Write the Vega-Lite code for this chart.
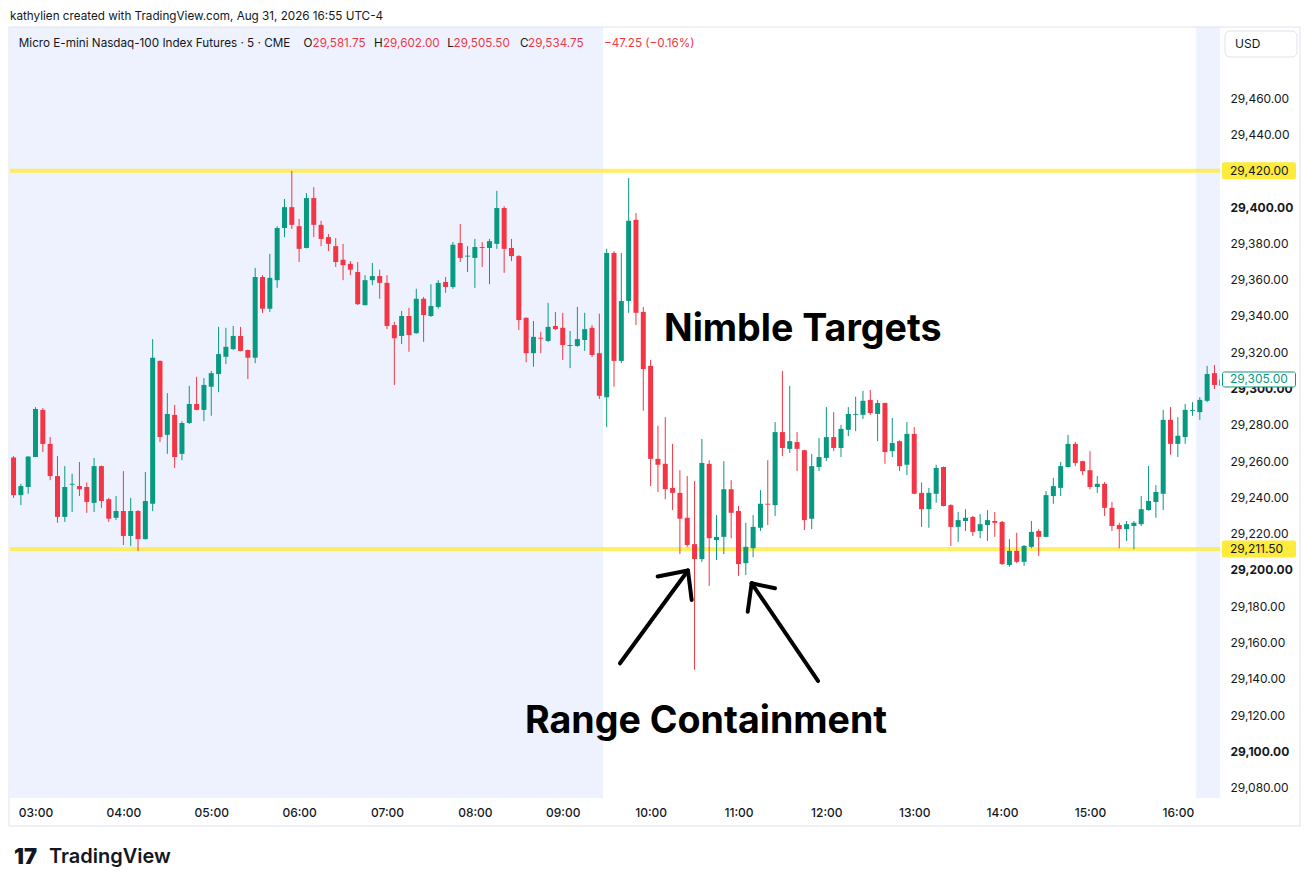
{
  "$schema": "https://vega.github.io/schema/vega-lite/v6.json",
  "width": 1210,
  "height": 771,
  "autosize": {"type": "none"},
  "padding": {"left": 10, "top": 27, "right": 91, "bottom": 89},
  "background": "#ffffff",
  "config": {
    "view": {"stroke": null},
    "font": "Inter",
    "scale": {"continuousPadding": 0},
    "axis": {"domain": false, "ticks": false, "grid": false, "labelFont": "Inter", "labelFontSize": 12, "labelColor": "#131722", "labelOverlap": false, "labelFlush": false}
  },
  "data": {"values": [{}]},
  "datasets": {
    "candles": [
      {"t":"2026-08-31T02:45:00Z","o":29262,"h":29262.75,"l":29239.75,"c":29241.25},
      {"t":"2026-08-31T02:50:00Z","o":29241.25,"h":29247.5,"l":29235.75,"c":29246.25},
      {"t":"2026-08-31T02:55:00Z","o":29245.75,"h":29262.75,"l":29242,"c":29262.5},
      {"t":"2026-08-31T03:00:00Z","o":29262.25,"h":29289.75,"l":29262.25,"c":29288.75},
      {"t":"2026-08-31T03:05:00Z","o":29288.25,"h":29289.25,"l":29265,"c":29269.5},
      {"t":"2026-08-31T03:10:00Z","o":29269.5,"h":29273.25,"l":29249.5,"c":29251.75},
      {"t":"2026-08-31T03:15:00Z","o":29251.75,"h":29262.75,"l":29226,"c":29229.25},
      {"t":"2026-08-31T03:20:00Z","o":29229.25,"h":29257.25,"l":29226.5,"c":29245.75},
      {"t":"2026-08-31T03:25:00Z","o":29247,"h":29253,"l":29232,"c":29247.5},
      {"t":"2026-08-31T03:30:00Z","o":29246.25,"h":29259.5,"l":29240.75,"c":29244.5},
      {"t":"2026-08-31T03:35:00Z","o":29245.75,"h":29248.25,"l":29231.5,"c":29237.5},
      {"t":"2026-08-31T03:40:00Z","o":29237,"h":29261.75,"l":29232,"c":29257.25},
      {"t":"2026-08-31T03:45:00Z","o":29257.25,"h":29257.5,"l":29234.25,"c":29238},
      {"t":"2026-08-31T03:50:00Z","o":29239,"h":29239.75,"l":29226.5,"c":29228.25},
      {"t":"2026-08-31T03:55:00Z","o":29228.75,"h":29240.75,"l":29227.5,"c":29232.5},
      {"t":"2026-08-31T04:00:00Z","o":29232.5,"h":29254.5,"l":29213.75,"c":29218.75},
      {"t":"2026-08-31T04:05:00Z","o":29218.75,"h":29239.75,"l":29213.25,"c":29232.5},
      {"t":"2026-08-31T04:10:00Z","o":29232.5,"h":29233,"l":29210.5,"c":29217},
      {"t":"2026-08-31T04:15:00Z","o":29217,"h":29254,"l":29216.75,"c":29238},
      {"t":"2026-08-31T04:20:00Z","o":29236.5,"h":29327.25,"l":29232.5,"c":29317},
      {"t":"2026-08-31T04:25:00Z","o":29315.25,"h":29315.5,"l":29270.5,"c":29273.25},
      {"t":"2026-08-31T04:30:00Z","o":29274.5,"h":29297.5,"l":29264,"c":29286},
      {"t":"2026-08-31T04:35:00Z","o":29285.5,"h":29291,"l":29256.25,"c":29262.25},
      {"t":"2026-08-31T04:40:00Z","o":29264,"h":29282,"l":29260.5,"c":29281},
      {"t":"2026-08-31T04:45:00Z","o":29281,"h":29301.5,"l":29280.5,"c":29291.5},
      {"t":"2026-08-31T04:50:00Z","o":29291.5,"h":29306.5,"l":29288,"c":29288.25},
      {"t":"2026-08-31T04:55:00Z","o":29288.25,"h":29305.75,"l":29282,"c":29302},
      {"t":"2026-08-31T05:00:00Z","o":29301,"h":29309.75,"l":29285,"c":29308.5},
      {"t":"2026-08-31T05:05:00Z","o":29308,"h":29334,"l":29298,"c":29319},
      {"t":"2026-08-31T05:10:00Z","o":29317.5,"h":29333.5,"l":29313.5,"c":29323},
      {"t":"2026-08-31T05:15:00Z","o":29321.75,"h":29334.5,"l":29321.25,"c":29329},
      {"t":"2026-08-31T05:20:00Z","o":29329,"h":29334,"l":29320.5,"c":29320.75},
      {"t":"2026-08-31T05:25:00Z","o":29321.25,"h":29321.5,"l":29305.25,"c":29317},
      {"t":"2026-08-31T05:30:00Z","o":29317,"h":29366.5,"l":29314,"c":29361.5},
      {"t":"2026-08-31T05:35:00Z","o":29361.5,"h":29362.5,"l":29341.75,"c":29344},
      {"t":"2026-08-31T05:40:00Z","o":29344,"h":29374.25,"l":29342.25,"c":29361},
      {"t":"2026-08-31T05:45:00Z","o":29359.75,"h":29389.5,"l":29355.5,"c":29388.5},
      {"t":"2026-08-31T05:50:00Z","o":29388.5,"h":29404.5,"l":29383.5,"c":29400},
      {"t":"2026-08-31T05:55:00Z","o":29400,"h":29420,"l":29388,"c":29390.25},
      {"t":"2026-08-31T06:00:00Z","o":29389.5,"h":29393.5,"l":29369.75,"c":29377},
      {"t":"2026-08-31T06:05:00Z","o":29377.5,"h":29407.75,"l":29377.25,"c":29405},
      {"t":"2026-08-31T06:10:00Z","o":29405,"h":29411,"l":29383.5,"c":29390.25},
      {"t":"2026-08-31T06:15:00Z","o":29390.25,"h":29392.5,"l":29378.5,"c":29382.5},
      {"t":"2026-08-31T06:20:00Z","o":29383.5,"h":29385.25,"l":29375.75,"c":29379.75},
      {"t":"2026-08-31T06:25:00Z","o":29378.5,"h":29383,"l":29367,"c":29369.75},
      {"t":"2026-08-31T06:30:00Z","o":29371,"h":29379.75,"l":29359.75,"c":29368},
      {"t":"2026-08-31T06:35:00Z","o":29368.75,"h":29370.25,"l":29362.5,"c":29365.5},
      {"t":"2026-08-31T06:40:00Z","o":29364.25,"h":29369.75,"l":29346,"c":29346.5},
      {"t":"2026-08-31T06:45:00Z","o":29346,"h":29362.5,"l":29345.75,"c":29359.75},
      {"t":"2026-08-31T06:50:00Z","o":29359.75,"h":29369.25,"l":29357,"c":29362},
      {"t":"2026-08-31T06:55:00Z","o":29362,"h":29365.5,"l":29349.5,"c":29358.25},
      {"t":"2026-08-31T07:00:00Z","o":29358.25,"h":29362.5,"l":29332.75,"c":29334.5},
      {"t":"2026-08-31T07:05:00Z","o":29335,"h":29336.75,"l":29302,"c":29327.75},
      {"t":"2026-08-31T07:10:00Z","o":29329,"h":29342.75,"l":29324.5,"c":29340},
      {"t":"2026-08-31T07:15:00Z","o":29340,"h":29344.5,"l":29320.25,"c":29329.5},
      {"t":"2026-08-31T07:20:00Z","o":29330.5,"h":29355,"l":29330.25,"c":29349.5},
      {"t":"2026-08-31T07:25:00Z","o":29349.5,"h":29350.5,"l":29325.75,"c":29340.5},
      {"t":"2026-08-31T07:30:00Z","o":29340,"h":29357.5,"l":29339.5,"c":29345.5},
      {"t":"2026-08-31T07:35:00Z","o":29345,"h":29359.75,"l":29344,"c":29358.25},
      {"t":"2026-08-31T07:40:00Z","o":29358.75,"h":29361.5,"l":29352.75,"c":29356},
      {"t":"2026-08-31T07:45:00Z","o":29356,"h":29380.75,"l":29355,"c":29379.25},
      {"t":"2026-08-31T07:50:00Z","o":29380.25,"h":29390.75,"l":29369.75,"c":29372},
      {"t":"2026-08-31T07:55:00Z","o":29372.75,"h":29378.5,"l":29364.25,"c":29373.25},
      {"t":"2026-08-31T08:00:00Z","o":29372,"h":29382.5,"l":29355.5,"c":29378},
      {"t":"2026-08-31T08:05:00Z","o":29378,"h":29380.75,"l":29367,"c":29377.5},
      {"t":"2026-08-31T08:10:00Z","o":29377.5,"h":29382.5,"l":29357.5,"c":29381.25},
      {"t":"2026-08-31T08:15:00Z","o":29379.75,"h":29409,"l":29377,"c":29399.5},
      {"t":"2026-08-31T08:20:00Z","o":29399.5,"h":29400.5,"l":29363.75,"c":29377},
      {"t":"2026-08-31T08:25:00Z","o":29377.5,"h":29382.5,"l":29370.25,"c":29373},
      {"t":"2026-08-31T08:30:00Z","o":29373,"h":29373.5,"l":29332.25,"c":29337.75},
      {"t":"2026-08-31T08:35:00Z","o":29339,"h":29339.25,"l":29314.5,"c":29319.5},
      {"t":"2026-08-31T08:40:00Z","o":29319.5,"h":29337.25,"l":29312,"c":29328.5},
      {"t":"2026-08-31T08:45:00Z","o":29328,"h":29331.25,"l":29319.5,"c":29327.5},
      {"t":"2026-08-31T08:50:00Z","o":29326.25,"h":29347.25,"l":29325.75,"c":29334},
      {"t":"2026-08-31T08:55:00Z","o":29334.5,"h":29342.25,"l":29332.25,"c":29332.75},
      {"t":"2026-08-31T09:00:00Z","o":29333.5,"h":29341.75,"l":29315.75,"c":29324},
      {"t":"2026-08-31T09:05:00Z","o":29323.5,"h":29331.75,"l":29311.25,"c":29324},
      {"t":"2026-08-31T09:10:00Z","o":29323.5,"h":29345,"l":29323,"c":29327.25},
      {"t":"2026-08-31T09:15:00Z","o":29326.75,"h":29341.75,"l":29320.75,"c":29332.75},
      {"t":"2026-08-31T09:20:00Z","o":29333.5,"h":29335,"l":29317.5,"c":29318.5},
      {"t":"2026-08-31T09:25:00Z","o":29319.5,"h":29341.25,"l":29294.25,"c":29296},
      {"t":"2026-08-31T09:30:00Z","o":29295.25,"h":29377,"l":29278.75,"c":29374.75},
      {"t":"2026-08-31T09:35:00Z","o":29374.75,"h":29375.75,"l":29301,"c":29315.25},
      {"t":"2026-08-31T09:40:00Z","o":29315.25,"h":29374.75,"l":29314,"c":29348.25},
      {"t":"2026-08-31T09:45:00Z","o":29348.25,"h":29416,"l":29341.75,"c":29392.5},
      {"t":"2026-08-31T09:50:00Z","o":29393,"h":29396.75,"l":29335,"c":29341.75},
      {"t":"2026-08-31T09:55:00Z","o":29342.25,"h":29345,"l":29287.75,"c":29310.75},
      {"t":"2026-08-31T10:00:00Z","o":29312.5,"h":29315.75,"l":29246.25,"c":29261.25},
      {"t":"2026-08-31T10:05:00Z","o":29261.25,"h":29279.5,"l":29243,"c":29258},
      {"t":"2026-08-31T10:10:00Z","o":29258.5,"h":29284.25,"l":29239,"c":29244.5},
      {"t":"2026-08-31T10:15:00Z","o":29245.25,"h":29269.5,"l":29233,"c":29242.5},
      {"t":"2026-08-31T10:20:00Z","o":29242.5,"h":29255,"l":29208.75,"c":29228.25},
      {"t":"2026-08-31T10:25:00Z","o":29228.75,"h":29251.75,"l":29212.75,"c":29213.75},
      {"t":"2026-08-31T10:30:00Z","o":29214.25,"h":29249,"l":29145,"c":29206},
      {"t":"2026-08-31T10:35:00Z","o":29206,"h":29272.25,"l":29204.5,"c":29259},
      {"t":"2026-08-31T10:40:00Z","o":29258.5,"h":29260.5,"l":29191.25,"c":29217.5},
      {"t":"2026-08-31T10:45:00Z","o":29216.5,"h":29230.25,"l":29205.5,"c":29218.25},
      {"t":"2026-08-31T10:50:00Z","o":29218.25,"h":29260,"l":29208.75,"c":29244.5},
      {"t":"2026-08-31T10:55:00Z","o":29244.5,"h":29249.5,"l":29217.5,"c":29231.5},
      {"t":"2026-08-31T11:00:00Z","o":29232.5,"h":29235.25,"l":29196.75,"c":29203.25},
      {"t":"2026-08-31T11:05:00Z","o":29203.75,"h":29226,"l":29197.25,"c":29212.75},
      {"t":"2026-08-31T11:10:00Z","o":29212,"h":29230.25,"l":29207,"c":29223.75},
      {"t":"2026-08-31T11:15:00Z","o":29223.25,"h":29244,"l":29221.5,"c":29236.5},
      {"t":"2026-08-31T11:20:00Z","o":29236.5,"h":29260.5,"l":29224.75,"c":29236},
      {"t":"2026-08-31T11:25:00Z","o":29235.75,"h":29281.5,"l":29229.75,"c":29276},
      {"t":"2026-08-31T11:30:00Z","o":29276,"h":29309.75,"l":29262.75,"c":29267.25},
      {"t":"2026-08-31T11:35:00Z","o":29266.75,"h":29301.5,"l":29264.5,"c":29271},
      {"t":"2026-08-31T11:40:00Z","o":29270.5,"h":29276,"l":29254.5,"c":29266.75},
      {"t":"2026-08-31T11:45:00Z","o":29266,"h":29266.25,"l":29222,"c":29227.5},
      {"t":"2026-08-31T11:50:00Z","o":29228.25,"h":29264,"l":29222.5,"c":29257.25},
      {"t":"2026-08-31T11:55:00Z","o":29256.75,"h":29272.75,"l":29254.5,"c":29262.25},
      {"t":"2026-08-31T12:00:00Z","o":29261.75,"h":29289.75,"l":29260,"c":29273.25},
      {"t":"2026-08-31T12:05:00Z","o":29273.25,"h":29287,"l":29265.5,"c":29267.25},
      {"t":"2026-08-31T12:10:00Z","o":29267.25,"h":29280,"l":29262.25,"c":29277.75},
      {"t":"2026-08-31T12:15:00Z","o":29277.25,"h":29289.75,"l":29273.75,"c":29286},
      {"t":"2026-08-31T12:20:00Z","o":29285.5,"h":29295.5,"l":29276.5,"c":29286},
      {"t":"2026-08-31T12:25:00Z","o":29285.5,"h":29298.75,"l":29283.25,"c":29293.25},
      {"t":"2026-08-31T12:30:00Z","o":29293.75,"h":29299.25,"l":29285.5,"c":29286.5},
      {"t":"2026-08-31T12:35:00Z","o":29286,"h":29293.75,"l":29271,"c":29292},
      {"t":"2026-08-31T12:40:00Z","o":29292,"h":29292.25,"l":29258.5,"c":29265},
      {"t":"2026-08-31T12:45:00Z","o":29265.5,"h":29283.75,"l":29262.25,"c":29270},
      {"t":"2026-08-31T12:50:00Z","o":29271,"h":29271.5,"l":29254.5,"c":29257.25},
      {"t":"2026-08-31T12:55:00Z","o":29258,"h":29281.5,"l":29252.25,"c":29275},
      {"t":"2026-08-31T13:00:00Z","o":29275,"h":29278.75,"l":29241.75,"c":29242},
      {"t":"2026-08-31T13:05:00Z","o":29242.5,"h":29248.25,"l":29223.75,"c":29233.5},
      {"t":"2026-08-31T13:10:00Z","o":29233.5,"h":29245.25,"l":29223.25,"c":29242.5},
      {"t":"2026-08-31T13:15:00Z","o":29242,"h":29258,"l":29237,"c":29256.25},
      {"t":"2026-08-31T13:20:00Z","o":29256.75,"h":29257,"l":29235,"c":29235.25},
      {"t":"2026-08-31T13:25:00Z","o":29235.75,"h":29236.25,"l":29213.25,"c":29223.75},
      {"t":"2026-08-31T13:30:00Z","o":29223.75,"h":29232,"l":29215.5,"c":29227.5},
      {"t":"2026-08-31T13:35:00Z","o":29227,"h":29233.5,"l":29221.5,"c":29228.75},
      {"t":"2026-08-31T13:40:00Z","o":29229.25,"h":29229.75,"l":29218.75,"c":29221},
      {"t":"2026-08-31T13:45:00Z","o":29221.5,"h":29230.75,"l":29217.5,"c":29225.25},
      {"t":"2026-08-31T13:50:00Z","o":29224.75,"h":29233,"l":29216,"c":29227.5},
      {"t":"2026-08-31T13:55:00Z","o":29227,"h":29232,"l":29218.25,"c":29226},
      {"t":"2026-08-31T14:00:00Z","o":29226.5,"h":29227,"l":29202.75,"c":29203.25},
      {"t":"2026-08-31T14:05:00Z","o":29202.75,"h":29217,"l":29201.75,"c":29210.5},
      {"t":"2026-08-31T14:10:00Z","o":29210.5,"h":29220.5,"l":29203.75,"c":29204.5},
      {"t":"2026-08-31T14:15:00Z","o":29204.5,"h":29213.75,"l":29202.25,"c":29213.25},
      {"t":"2026-08-31T14:20:00Z","o":29212.75,"h":29227,"l":29212,"c":29221},
      {"t":"2026-08-31T14:25:00Z","o":29221.5,"h":29222.5,"l":29207.75,"c":29218.25},
      {"t":"2026-08-31T14:30:00Z","o":29218.25,"h":29243.5,"l":29218,"c":29241.25},
      {"t":"2026-08-31T14:35:00Z","o":29240.75,"h":29250.75,"l":29236.5,"c":29246.25},
      {"t":"2026-08-31T14:40:00Z","o":29245.25,"h":29259.5,"l":29240.75,"c":29257.25},
      {"t":"2026-08-31T14:45:00Z","o":29256.75,"h":29274.5,"l":29256.5,"c":29269.5},
      {"t":"2026-08-31T14:50:00Z","o":29269.5,"h":29270.5,"l":29257.25,"c":29259},
      {"t":"2026-08-31T14:55:00Z","o":29260,"h":29260.25,"l":29252.25,"c":29254.5},
      {"t":"2026-08-31T15:00:00Z","o":29255,"h":29265.5,"l":29244.5,"c":29245.75},
      {"t":"2026-08-31T15:05:00Z","o":29245.75,"h":29251.75,"l":29242.5,"c":29247.5},
      {"t":"2026-08-31T15:10:00Z","o":29247.5,"h":29248.5,"l":29229.75,"c":29234.25},
      {"t":"2026-08-31T15:15:00Z","o":29234.25,"h":29237.5,"l":29221.5,"c":29224.25},
      {"t":"2026-08-31T15:20:00Z","o":29224.75,"h":29226,"l":29212,"c":29222.5},
      {"t":"2026-08-31T15:25:00Z","o":29222.5,"h":29227,"l":29216,"c":29225.25},
      {"t":"2026-08-31T15:30:00Z","o":29224.25,"h":29227,"l":29211.5,"c":29226},
      {"t":"2026-08-31T15:35:00Z","o":29225.25,"h":29240.75,"l":29224.25,"c":29233.5},
      {"t":"2026-08-31T15:40:00Z","o":29233,"h":29257.25,"l":29232.75,"c":29238},
      {"t":"2026-08-31T15:45:00Z","o":29237.5,"h":29246.75,"l":29228.75,"c":29243},
      {"t":"2026-08-31T15:50:00Z","o":29242,"h":29288.25,"l":29233,"c":29282.75},
      {"t":"2026-08-31T15:55:00Z","o":29282.75,"h":29289.75,"l":29263.5,"c":29269.5},
      {"t":"2026-08-31T16:00:00Z","o":29269.5,"h":29284.25,"l":29262.25,"c":29274},
      {"t":"2026-08-31T16:05:00Z","o":29273.25,"h":29291.5,"l":29269.5,"c":29288.25},
      {"t":"2026-08-31T16:10:00Z","o":29287.75,"h":29292.5,"l":29285,"c":29288.25},
      {"t":"2026-08-31T16:15:00Z","o":29287,"h":29295.25,"l":29282.75,"c":29293.75},
      {"t":"2026-08-31T16:20:00Z","o":29293.25,"h":29312.5,"l":29292.5,"c":29308},
      {"t":"2026-08-31T16:25:00Z","o":29308.5,"h":29313,"l":29299.75,"c":29302},
      {"t":"2026-08-31T16:30:00Z","o":29301.5,"h":29306,"l":29301,"c":29305}
    ]
  },
  "layer": [
    {
      "data": {"values": [{"s": "2026-08-31T02:30:00Z", "e": "2026-08-31T09:27:30Z"}, {"s": "2026-08-31T16:12:30Z", "e": "2026-08-31T16:45:00Z"}]},
      "mark": {"type": "rect", "color": "#EEF2FF", "clip": true},
      "encoding": {
        "x": {"field": "s", "type": "temporal", "title": null,
          "scale": {"type": "utc", "nice": false, "padding": 0, "domain": [{"year": 2026, "month": 8, "date": 31, "hours": 2, "minutes": 42, "seconds": 35, "utc": true}, {"year": 2026, "month": 8, "date": 31, "hours": 16, "minutes": 28, "seconds": 47, "utc": true}]},
          "axis": {"orient": "bottom", "labelExpr": "utcFormat(datum.value, '%H:%M')", "labelPadding": 9, "labelFontWeight": 500,
            "values": [
              {"year": 2026, "month": 8, "date": 31, "hours": 3, "utc": true},
              {"year": 2026, "month": 8, "date": 31, "hours": 4, "utc": true},
              {"year": 2026, "month": 8, "date": 31, "hours": 5, "utc": true},
              {"year": 2026, "month": 8, "date": 31, "hours": 6, "utc": true},
              {"year": 2026, "month": 8, "date": 31, "hours": 7, "utc": true},
              {"year": 2026, "month": 8, "date": 31, "hours": 8, "utc": true},
              {"year": 2026, "month": 8, "date": 31, "hours": 9, "utc": true},
              {"year": 2026, "month": 8, "date": 31, "hours": 10, "utc": true},
              {"year": 2026, "month": 8, "date": 31, "hours": 11, "utc": true},
              {"year": 2026, "month": 8, "date": 31, "hours": 12, "utc": true},
              {"year": 2026, "month": 8, "date": 31, "hours": 13, "utc": true},
              {"year": 2026, "month": 8, "date": 31, "hours": 14, "utc": true},
              {"year": 2026, "month": 8, "date": 31, "hours": 15, "utc": true},
              {"year": 2026, "month": 8, "date": 31, "hours": 16, "utc": true}
            ]}},
        "x2": {"field": "e"}
      }
    },
    {
      "mark": {"type": "rect", "fillOpacity": 0, "stroke": "#E0E3EB", "strokeWidth": 1, "xOffset": -1, "x2Offset": 80, "y2Offset": 28},
      "encoding": {
        "x": {"datum": {"year": 2026, "month": 8, "date": 31, "hours": 2, "minutes": 42, "seconds": 35, "utc": true}, "type": "temporal"},
        "x2": {"datum": {"year": 2026, "month": 8, "date": 31, "hours": 16, "minutes": 28, "seconds": 47, "utc": true}},
        "y": {"datum": 29499.3, "type": "quantitative"},
        "y2": {"datum": 29074.3}
      }
    },
    {
      "data": {"values": [{"p": 29420}, {"p": 29211.5}]},
      "mark": {"type": "rule", "color": "#FFEB3B", "strokeWidth": 4, "opacity": 0.8},
      "encoding": {
        "y": {"field": "p", "type": "quantitative", "title": null,
          "scale": {"domain": [29074.3, 29499.3], "zero": false, "nice": false, "padding": 0},
          "axis": {"orient": "right", "format": ",.2f", "labelPadding": 10,
            "values": [29080, 29100, 29120, 29140, 29160, 29180, 29200, 29220, 29240, 29260, 29280, 29300, 29320, 29340, 29360, 29380, 29400, 29440, 29460],
            "labelFontWeight": {"condition": {"test": "datum.value % 100 === 0", "value": "bold"}, "value": "normal"}}}
      }
    },
    {
      "data": {"name": "candles"},
      "mark": {"type": "rule", "strokeWidth": 1, "clip": true},
      "encoding": {
        "x": {"field": "t", "type": "temporal"},
        "y": {"field": "l", "type": "quantitative"},
        "y2": {"field": "h"},
        "color": {"condition": {"test": "datum.c >= datum.o", "value": "#089981"}, "value": "#F23645"}
      }
    },
    {
      "data": {"name": "candles"},
      "mark": {"type": "bar", "width": 5, "clip": true},
      "encoding": {
        "x": {"field": "t", "type": "temporal"},
        "y": {"field": "o", "type": "quantitative"},
        "y2": {"field": "c"},
        "color": {"condition": {"test": "datum.c >= datum.o", "value": "#089981"}, "value": "#F23645"}
      }
    },
    {
      "data": {"values": [
        {"txt": "Nimble Targets", "t": "2026-08-31T10:09:08Z", "p": 29326.4},
        {"txt": "Range Containment", "t": "2026-08-31T08:34:13Z", "p": 29109.9}
      ]},
      "mark": {"type": "text", "align": "left", "baseline": "alphabetic", "font": "Inter", "fontSize": 37.6, "fontWeight": "bold", "color": "#000000"},
      "encoding": {
        "x": {"field": "t", "type": "temporal"},
        "y": {"field": "p", "type": "quantitative"},
        "text": {"field": "txt"}
      }
    },
    {
      "data": {"values": [
        {"t1": "2026-08-31T09:39:06Z", "p1": 29148.56, "t2": "2026-08-31T10:25:30Z", "p2": 29199.71},
        {"t1": "2026-08-31T10:25:30Z", "p1": 29199.71, "t2": "2026-08-31T10:04:48Z", "p2": 29196.41},
        {"t1": "2026-08-31T10:25:30Z", "p1": 29199.71, "t2": "2026-08-31T10:28:02Z", "p2": 29183.45},
        {"t1": "2026-08-31T11:54:18Z", "p1": 29138.81, "t2": "2026-08-31T11:09:00Z", "p2": 29192.66},
        {"t1": "2026-08-31T11:09:00Z", "p1": 29192.66, "t2": "2026-08-31T11:06:18Z", "p2": 29177.01},
        {"t1": "2026-08-31T11:09:00Z", "p1": 29192.66, "t2": "2026-08-31T11:24:54Z", "p2": 29189.9}
      ]},
      "mark": {"type": "rule", "color": "#000000", "strokeWidth": 4, "strokeCap": "round"},
      "encoding": {
        "x": {"field": "t1", "type": "temporal"},
        "x2": {"field": "t2"},
        "y": {"field": "p1", "type": "quantitative"},
        "y2": {"field": "p2"}
      }
    },
    {
      "mark": {"type": "text", "align": "left", "baseline": "middle", "dy": -11, "fontSize": 11.7, "font": "Inter", "color": "#131722", "text": "kathylien created with TradingView.com, Aug 31, 2026 16:55 UTC-4"},
      "encoding": {
        "x": {"datum": {"year": 2026, "month": 8, "date": 31, "hours": 2, "minutes": 42, "seconds": 35, "utc": true}, "type": "temporal"},
        "y": {"datum": 29499.3, "type": "quantitative"}
      }
    },
    {
      "data": {"values": [
        {"s": "Micro E-mini Nasdaq-100 Index Futures · 5 · CME", "t": "2026-08-31T02:48:34Z", "k": "label"},
        {"s": "O", "t": "2026-08-31T06:03:03Z", "k": "label"},
        {"s": "29,581.75", "t": "2026-08-31T06:09:08Z", "k": "value"},
        {"s": "H", "t": "2026-08-31T06:51:11Z", "k": "label"},
        {"s": "29,602.00", "t": "2026-08-31T06:57:16Z", "k": "value"},
        {"s": "L", "t": "2026-08-31T07:41:10Z", "k": "label"},
        {"s": "29,505.50", "t": "2026-08-31T07:45:28Z", "k": "value"},
        {"s": "C", "t": "2026-08-31T08:30:52Z", "k": "label"},
        {"s": "29,534.75", "t": "2026-08-31T08:36:20Z", "k": "value"},
        {"s": "−47.25 (−0.16%)", "t": "2026-08-31T09:28:10Z", "k": "value"}
      ]},
      "mark": {"type": "text", "align": "left", "baseline": "middle", "dy": 16, "fontSize": 11.7, "font": "Inter"},
      "encoding": {
        "x": {"field": "t", "type": "temporal"},
        "y": {"datum": 29499.3, "type": "quantitative"},
        "text": {"field": "s"},
        "color": {"field": "k", "type": "nominal", "scale": {"domain": ["label", "value"], "range": ["#131722", "#F23645"]}, "legend": null}
      }
    },
    {
      "mark": {"type": "rect", "fill": "#ffffff", "stroke": "#E0E3EB", "strokeWidth": 1, "cornerRadius": 5, "xOffset": 5, "x2Offset": 77, "yOffset": 4, "y2Offset": 30},
      "encoding": {
        "x": {"datum": {"year": 2026, "month": 8, "date": 31, "hours": 16, "minutes": 28, "seconds": 47, "utc": true}, "type": "temporal"},
        "x2": {"datum": {"year": 2026, "month": 8, "date": 31, "hours": 16, "minutes": 28, "seconds": 47, "utc": true}},
        "y": {"datum": 29499.3, "type": "quantitative"},
        "y2": {"datum": 29499.3}
      }
    },
    {
      "mark": {"type": "text", "align": "left", "baseline": "middle", "dx": 15, "dy": 17, "fontSize": 12, "font": "Inter", "color": "#131722", "text": "USD"},
      "encoding": {
        "x": {"datum": {"year": 2026, "month": 8, "date": 31, "hours": 16, "minutes": 28, "seconds": 47, "utc": true}, "type": "temporal"},
        "y": {"datum": 29499.3, "type": "quantitative"}
      }
    },
    {
      "data": {"values": [{"p": 29420}, {"p": 29211.5}]},
      "layer": [
        {
          "mark": {"type": "rect", "fill": "#FFEB3B", "cornerRadius": 2, "xOffset": 2, "x2Offset": 76, "yOffset": -8.5, "y2Offset": 8.5},
          "encoding": {
            "x": {"datum": {"year": 2026, "month": 8, "date": 31, "hours": 16, "minutes": 28, "seconds": 47, "utc": true}, "type": "temporal"},
            "x2": {"datum": {"year": 2026, "month": 8, "date": 31, "hours": 16, "minutes": 28, "seconds": 47, "utc": true}},
            "y": {"field": "p", "type": "quantitative"},
            "y2": {"field": "p"}
          }
        },
        {
          "mark": {"type": "text", "align": "left", "baseline": "middle", "dx": 10, "fontSize": 12, "font": "Inter", "color": "#131722"},
          "encoding": {
            "x": {"datum": {"year": 2026, "month": 8, "date": 31, "hours": 16, "minutes": 28, "seconds": 47, "utc": true}, "type": "temporal"},
            "y": {"field": "p", "type": "quantitative"},
            "text": {"field": "p", "type": "quantitative", "format": ",.2f"}
          }
        }
      ]
    },
    {
      "data": {"values": [{"p": 29305}]},
      "layer": [
        {
          "mark": {"type": "rect", "fill": "#ffffff", "stroke": "#089981", "strokeWidth": 1, "cornerRadius": 2, "xOffset": 2.5, "x2Offset": 75.5, "yOffset": -7.5, "y2Offset": 7.5},
          "encoding": {
            "x": {"datum": {"year": 2026, "month": 8, "date": 31, "hours": 16, "minutes": 28, "seconds": 47, "utc": true}, "type": "temporal"},
            "x2": {"datum": {"year": 2026, "month": 8, "date": 31, "hours": 16, "minutes": 28, "seconds": 47, "utc": true}},
            "y": {"field": "p", "type": "quantitative"},
            "y2": {"field": "p"}
          }
        },
        {
          "mark": {"type": "text", "align": "left", "baseline": "middle", "dx": 10, "fontSize": 12, "font": "Inter", "color": "#089981"},
          "encoding": {
            "x": {"datum": {"year": 2026, "month": 8, "date": 31, "hours": 16, "minutes": 28, "seconds": 47, "utc": true}, "type": "temporal"},
            "y": {"field": "p", "type": "quantitative"},
            "text": {"field": "p", "type": "quantitative", "format": ",.2f"}
          }
        }
      ]
    },
    {
      "mark": {"type": "text", "align": "left", "baseline": "middle", "dx": 4, "dy": 59, "fontSize": 22, "fontWeight": 900, "font": "Inter", "color": "#131722", "text": "17"},
      "encoding": {
        "x": {"datum": {"year": 2026, "month": 8, "date": 31, "hours": 2, "minutes": 42, "seconds": 35, "utc": true}, "type": "temporal"},
        "y": {"datum": 29074.3, "type": "quantitative"}
      }
    },
    {
      "mark": {"type": "text", "align": "left", "baseline": "middle", "dx": 39, "dy": 59, "fontSize": 20, "fontWeight": 600, "font": "Inter", "color": "#131722", "text": "TradingView"},
      "encoding": {
        "x": {"datum": {"year": 2026, "month": 8, "date": 31, "hours": 2, "minutes": 42, "seconds": 35, "utc": true}, "type": "temporal"},
        "y": {"datum": 29074.3, "type": "quantitative"}
      }
    }
  ]
}
